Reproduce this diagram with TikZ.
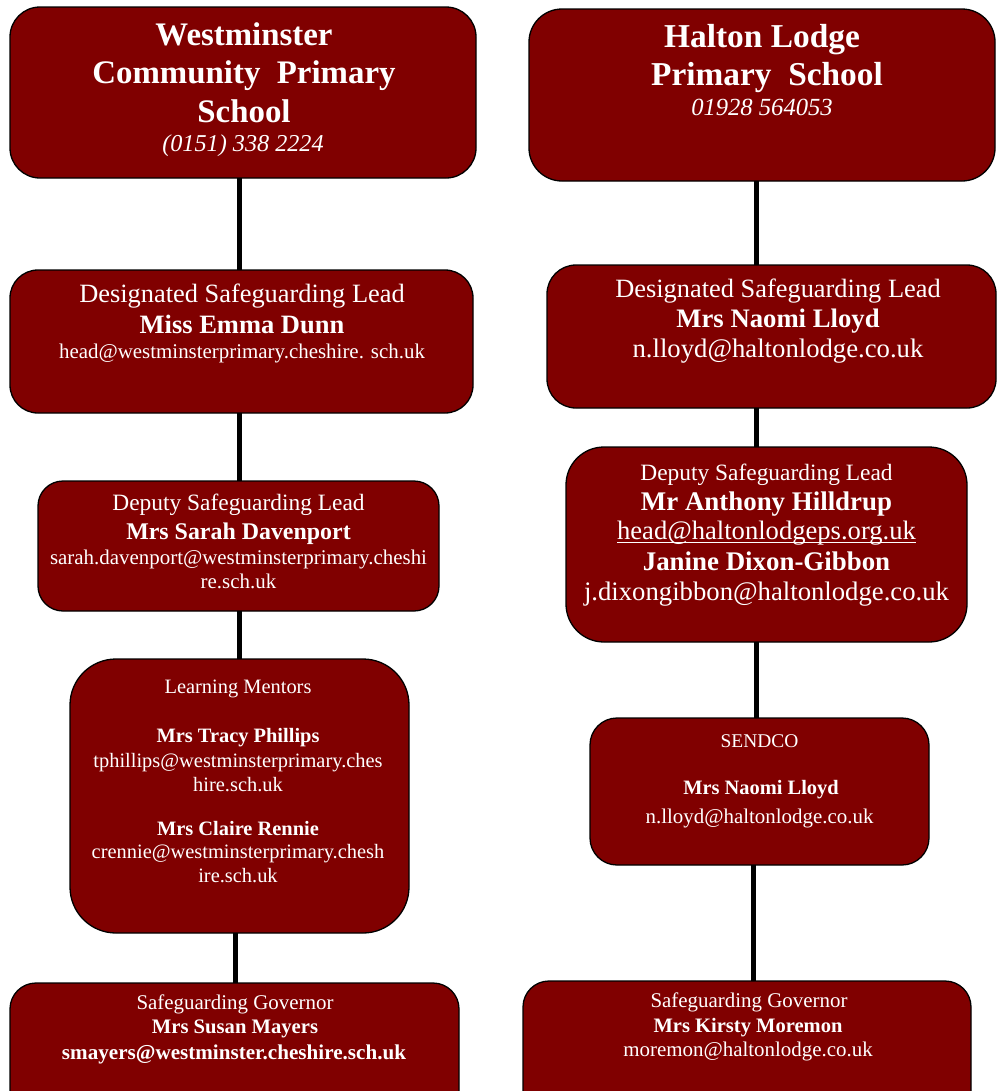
\documentclass[tikz,border=0pt]{standalone}
\usepackage{fontspec}
\setmainfont{Liberation Serif}
\definecolor{boxred}{RGB}{128,0,0}
\newcommand\fs[1]{\fontsize{#1}{#1}\selectfont}
\newlength\ulwidth
\newcommand\myul[1]{\settowidth\ulwidth{#1}\rlap{\rule[-4.5pt]{\ulwidth}{1.4pt}}#1}
\tikzset{
  box/.style={draw=black, line width=1.3bp, fill=boxred, rounded corners=#1,
    anchor=north west, inner sep=0pt, outer sep=0pt},
  box/.default=26bp,
  txt/.style={text=white, inner sep=0pt, anchor=base},
  conn/.style={line width=5bp, draw=black},
}
\begin{document}
\begin{tikzpicture}[x=1bp,y=-1bp]
\useasboundingbox (0,0) rectangle (997,1091);
\clip (0,0) rectangle (997,1091);
% boxes, left column
\node[box=30bp, minimum width=466bp, minimum height=171bp] (w1) at (10,7) {};
\node[box=28bp, minimum width=463bp, minimum height=143bp] (w2) at (10,270) {};
\node[box=25bp, minimum width=401bp, minimum height=130bp] (w3) at (38,481) {};
\node[box=46bp, minimum width=339bp, minimum height=274bp] (w4) at (70,659) {};
\node[box=26bp, minimum width=449bp, minimum height=140bp] (w5) at (10,983) {};
% boxes, right column
\node[box=33bp, minimum width=466bp, minimum height=172bp] (h1) at (529,9) {};
\node[box=29bp, minimum width=449bp, minimum height=143bp] (h2) at (547,265) {};
\node[box=38bp, minimum width=401bp, minimum height=195bp] (h3) at (566,447) {};
\node[box=27bp, minimum width=339bp, minimum height=147bp] (h4) at (590,718) {};
\node[box=26bp, minimum width=448bp, minimum height=140bp] (h5) at (523,981) {};
% connectors
\coordinate (lx) at (239,0);
\coordinate (lxb) at (235,0);
\coordinate (rx) at (756,0);
\coordinate (rxb) at (753,0);
\draw[conn] (lx |- w1.south) -- (lx |- w2.north);
\draw[conn] (lx |- w2.south) -- (lx |- w3.north);
\draw[conn] (lx |- w3.south) -- (lx |- w4.north);
\draw[conn] (lxb |- w4.south) -- (lxb |- w5.north);
\draw[conn] (rx |- h1.south) -- (rx |- h2.north);
\draw[conn] (rx |- h2.south) -- (rx |- h3.north);
\draw[conn] (rx |- h3.south) -- (rx |- h4.north);
\draw[conn] (rxb |- h4.south) -- (rxb |- h5.north);
% texts, left column
\node[txt, font=\fs{33}\bfseries] (w1a) at (244,45) {Westminster};
\node[txt, font=\fs{33}\bfseries] (w1b) at (244,83) {Community\ \ Primary};
\node[txt, font=\fs{33}\bfseries] (w1c) at (244,122) {School};
\node[txt, font=\fs{24.3}\itshape] (w1d) at (243,151) {(0151) 338 2224};
\node[txt, font=\fs{26.5}] (w2a) at (242,302) {Designated Safeguarding Lead};
\node[txt, font=\fs{26.6}\bfseries] (w2b) at (242,333) {Miss Emma Dunn};
\node[txt, font=\fs{21}] (w2c) at (242,358) {head@westminsterprimary.cheshire. sch.uk};
\node[txt, font=\fs{23.5}] (w3a) at (238.5,510) {Deputy Safeguarding Lead};
\node[txt, font=\fs{24}\bfseries] (w3b) at (238.5,539) {Mrs Sarah Davenport};
\node[txt, font=\fs{21}] (w3c) at (238.5,564) {sarah.davenport@westminsterprimary.cheshi};
\node[txt, font=\fs{21}] (w3d) at (238.5,588) {re.sch.uk};
\node[txt, font=\fs{20.5}] (w4a) at (238,693) {Learning Mentors};
\node[txt, font=\fs{20.5}\bfseries] (w4b) at (238,742) {Mrs Tracy Phillips};
\node[txt, font=\fs{20.5}] (w4c) at (238,767) {tphillips@westminsterprimary.ches};
\node[txt, font=\fs{20.5}] (w4d) at (238,791) {hire.sch.uk};
\node[txt, font=\fs{20.5}\bfseries] (w4e) at (238,835) {Mrs Claire Rennie};
\node[txt, font=\fs{20.5}] (w4f) at (238,858) {crennie@westminsterprimary.chesh};
\node[txt, font=\fs{20.5}] (w4g) at (238,882) {ire.sch.uk};
\node[txt, font=\fs{21}] (w5a) at (235,1009) {Safeguarding Governor};
\node[txt, font=\fs{20.7}\bfseries] (w5b) at (235,1033) {Mrs Susan Mayers};
\node[txt, font=\fs{21.2}\bfseries] (w5c) at (234,1059) {smayers@westminster.cheshire.sch.uk};
% texts, right column
\node[txt, font=\fs{33.5}\bfseries] (h1a) at (762,47) {Halton Lodge};
\node[txt, font=\fs{33.5}\bfseries] (h1b) at (767,85) {Primary\ \ School};
\node[txt, font=\fs{24.7}\itshape] (h1c) at (762,115) {01928 564053};
\node[txt, font=\fs{26.5}] (h2a) at (778,297) {Designated Safeguarding Lead};
\node[txt, font=\fs{26.8}\bfseries] (h2b) at (778,327) {Mrs Naomi Lloyd};
\node[txt, font=\fs{26.8}] (h2c) at (778,357) {n.lloyd@haltonlodge.co.uk};
\node[txt, font=\fs{23.5}] (h3a) at (766.5,480) {Deputy Safeguarding Lead};
\node[txt, font=\fs{27}\bfseries] (h3b) at (766.5,510) {Mr Anthony Hilldrup};
\node[txt, font=\fs{26.7}] (h3c) at (766.5,539) {\myul{head@haltonlodgeps.org.uk}};
\node[txt, font=\fs{27}\bfseries] (h3d) at (766.5,570) {Janine Dixon-Gibbon};
\node[txt, font=\fs{26.8}] (h3e) at (766.5,600) {j.dixongibbon@haltonlodge.co.uk};
\node[txt, font=\fs{19.5}] (h4a) at (759.5,747) {SENDCO};
\node[txt, font=\fs{20.5}\bfseries] (h4b) at (761,794) {Mrs Naomi Lloyd};
\node[txt, font=\fs{21}] (h4c) at (759.5,823) {n.lloyd@haltonlodge.co.uk};
\node[txt, font=\fs{21}] (h5a) at (749,1007) {Safeguarding Governor};
\node[txt, font=\fs{20.6}\bfseries] (h5b) at (748,1032) {Mrs Kirsty Moremon};
\node[txt, font=\fs{21}] (h5c) at (748,1056) {moremon@haltonlodge.co.uk};
\end{tikzpicture}
\end{document}
